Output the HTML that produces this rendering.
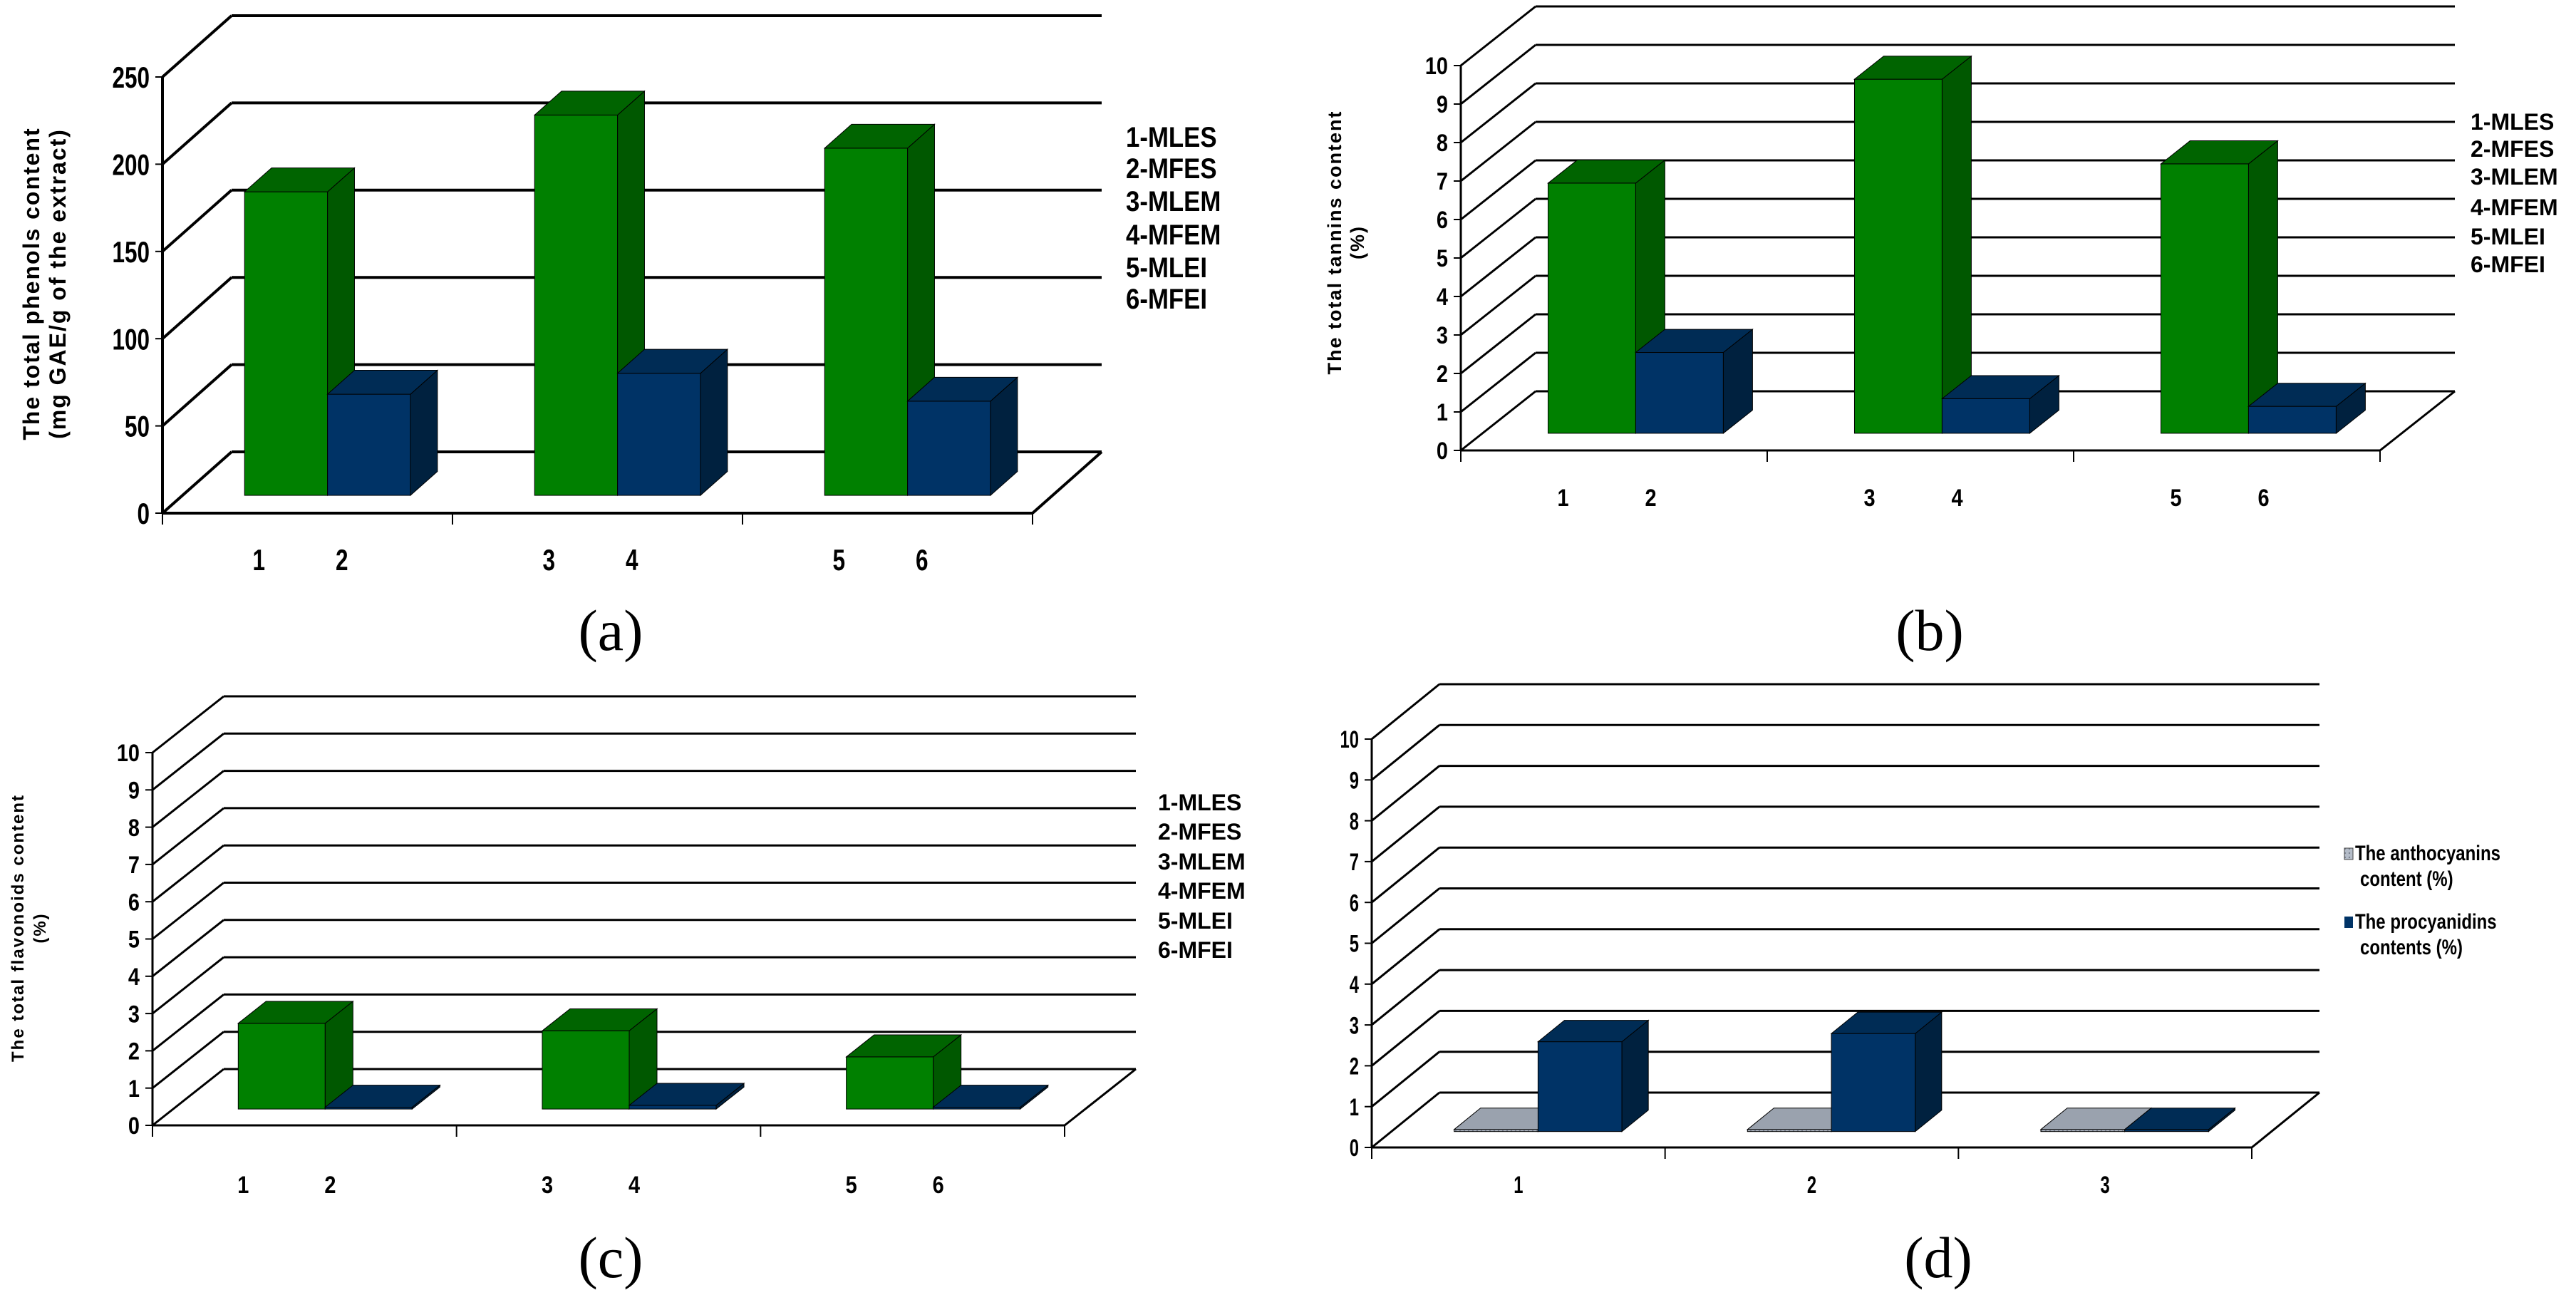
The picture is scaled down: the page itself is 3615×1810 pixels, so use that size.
<!DOCTYPE html>
<html><head><meta charset="utf-8"><style>
html,body{margin:0;padding:0;background:#fff;}
svg{display:block;}
.tk{font-family:"Liberation Sans Narrow","Liberation Sans",sans-serif;font-weight:bold;}
.cap{font-family:"Liberation Serif",serif;}
</style></head><body>
<svg id="chart" width="3615" height="1810" viewBox="0 0 3615 1810" xmlns="http://www.w3.org/2000/svg"></svg>
<script>
const catsSix=['1','2','3','4','5','6'];
const phenolsGreen=[174,218,199];
const phenolsBlue=[58,70,54];
const tanninsGreen=[6.5,9.2,7.0];
const tanninsBlue=[2.1,0.9,0.7];
const flavGreen=[2.3,2.1,1.4];
const flavBlue=[0.05,0.1,0.05];
const groupsD=['1','2','3'];
const anthoD=[0.05,0.05,0.05];
const procyD=[2.2,2.4,0.05];
const legendSix=['1-MLES','2-MFES','3-MLEM','4-MFEM','5-MLEI','6-MFEI'];

const svg=document.getElementById('chart');
const NS='http://www.w3.org/2000/svg';
function mk(tag,attrs,parent,txt){const e=document.createElementNS(NS,tag);for(const k in attrs)e.setAttribute(k,attrs[k]);if(txt!==undefined)e.textContent=txt;(parent||svg).appendChild(e);return e;}
function ctext(parent,x,y,str,fs,anchor,sx){
  const g=mk('g',{transform:`translate(${x},${y}) scale(${sx},1)`},parent);
  return mk('text',{x:0,y:0,'font-size':fs,'text-anchor':anchor,class:'tk'},g,str);
}

const defs=mk('defs',{});
const pat=mk('pattern',{id:'hatch',width:'6',height:'6',patternUnits:'userSpaceOnUse'},defs);
mk('rect',{width:'6',height:'6',fill:'#b4bcc8'},pat);
mk('circle',{cx:'3',cy:'3',r:'1.2',fill:'#7a8290'},pat);

function panel(name,c,s1,s2,col1,col2,perCatLabels,groupLabels){
  const g=mk('g',{});
  
  
  const nt=Math.round(c.max/c.step);
  for(let k=0;k<=nt;k++){
    const yf=c.y0-k*c.H/nt;
    const l1=mk('line',{x1:c.x0,y1:yf,x2:c.x0+c.ddx,y2:yf+c.ddy,stroke:'#000','stroke-width':c.lw},g);
    
    
    const l2=mk('line',{x1:c.x0+c.ddx,y1:yf+c.ddy,x2:c.x0+c.W+c.ddx,y2:yf+c.ddy,stroke:'#000','stroke-width':c.lw},g);
    
    
    mk('line',{x1:c.x0-10,y1:yf,x2:c.x0,y2:yf,stroke:'#000','stroke-width':2},g);
    const t=ctext(g,c.x0-18,yf+c.fs*0.36,String(Math.round(k*c.step)),c.fs,'end',c.sx);
    
    
  }
  mk('line',{x1:c.x0,y1:c.y0,x2:c.x0,y2:c.y0-c.H,stroke:'#000','stroke-width':c.lw},g);
  mk('line',{x1:c.x0,y1:c.y0,x2:c.x0+c.W,y2:c.y0,stroke:'#000','stroke-width':c.lw},g);
  mk('line',{x1:c.x0+c.W,y1:c.y0,x2:c.x0+c.W+c.ddx,y2:c.y0+c.ddy,stroke:'#000','stroke-width':c.lw},g);
  const n=s1.length, pitch=c.W/n;
  for(let i=0;i<=n;i++){mk('line',{x1:c.x0+i*pitch,y1:c.y0,x2:c.x0+i*pitch,y2:c.y0+16,stroke:'#000','stroke-width':2},g);}
  const f0=0.29,f1=0.68,dd=(f1-f0)*c.ddx,dy=(f1-f0)*c.ddy;
  const bw=0.286*pitch;
  function bar(x,v,cl,nm){
    const xl=x+f0*c.ddx, yb=c.y0+f0*c.ddy, xr=xl+bw, yt=yb-v/c.max*c.H;
    const b=mk('g',{},g);
    
    
    mk('rect',{x:xl,y:yt,width:bw,height:Math.max(yb-yt,0.5),fill:cl[0],stroke:'#000','stroke-width':1},b);
    mk('polygon',{points:`${xr},${yb} ${xr+dd},${yb+dy} ${xr+dd},${yt+dy} ${xr},${yt}`,fill:cl[1],stroke:'#000','stroke-width':1},b);
    mk('polygon',{points:`${xl},${yt} ${xl+dd},${yt+dy} ${xr+dd},${yt+dy} ${xr},${yt}`,fill:cl[2],stroke:'#000','stroke-width':1},b);
  }
  for(let i=0;i<n;i++){
    const gx=c.x0+i*pitch, st=gx+(pitch-2*bw)/2;
    bar(st,s1[i],col1,'bar-series1-'+(i+1));
    bar(st+bw,s2[i],col2,'bar-series2-'+(i+1));
    if(perCatLabels){
      [0,1].forEach(j=>{
        const t=ctext(g,st+bw*j+bw/2+c.ldx,c.ly,perCatLabels[2*i+j],c.fs,'middle',c.sx);
        
        
      });
    } else {
      const t=ctext(g,gx+pitch/2,c.ly,groupLabels[i],c.fs,'middle',c.sx);
      
      
    }
  }
  return g;
}
const GREEN=['#008000','#005800','#006400'], BLUE=['#003366','#00213f','#002c55'], GRAY=['url(#hatch)','#8a929e','#9aa2ae'];
panel('panel-a',{x0:228,y0:720,W:1221,H:612,ddx:97,ddy:-86,max:250,step:50,lw:4,fs:42,sx:0.75,ly:800,ldx:-10},phenolsGreen,phenolsBlue,GREEN,BLUE,catsSix);
panel('panel-b',{x0:2050,y0:632,W:1290,H:540,ddx:105,ddy:-83,max:10,step:1,lw:3,fs:34,sx:0.85,ly:710,ldx:-10},tanninsGreen,tanninsBlue,GREEN,BLUE,catsSix);
panel('panel-c',{x0:214,y0:1579,W:1280,H:523,ddx:100,ddy:-79,max:10,step:1,lw:3,fs:34,sx:0.85,ly:1674,ldx:-25},flavGreen,flavBlue,GREEN,BLUE,catsSix);
panel('panel-d',{x0:1925,y0:1610,W:1235,H:573,ddx:95,ddy:-77,max:10,step:1,lw:3,fs:34,sx:0.7,ly:1674,ldx:0},anthoD,procyD,GRAY,BLUE,null,groupsD);

function legend(name,x,ys,fs,sx){
  legendSix.forEach((s,i)=>{
    const t=ctext(null,x,ys[i],s,fs,'start',sx);
    
    
  });
}
legend('legend-a',1580,[206,250,296,343,389,433],40,0.87);
legend('legend-b',3467,[182,220,259,302,343,382],32,1.0);
legend('legend-c',1625,[1137,1178,1220,1261,1303,1344],32,1.0);
mk('rect',{x:3290,y:1190,width:12,height:16,fill:'url(#hatch)',stroke:'#444','stroke-width':1});
mk('rect',{x:3290,y:1286,width:12,height:16,fill:'#003366'});
[['The anthocyanins',1207],['content (%)',1243],['The procyanidins',1303],['contents (%)',1339]].forEach((a,i)=>{
  const t=ctext(null,i%2?3312:3305,a[1],a[0],30,'start',0.8);
  
  
});

function ytitle(name,lines,xs,cy,fs){
  lines.forEach((s,i)=>{
    const t=mk('text',{x:xs[i],y:cy,'font-size':fs,'text-anchor':'middle',class:'tk','font-family':'Liberation Sans','letter-spacing':'2',transform:`rotate(-90 ${xs[i]} ${cy})`},null,s);
    
    
  });
}
ytitle('y-axis-title-a',['The total  phenols  content','(mg GAE/g of the extract)'],[55,92],398,32);
ytitle('y-axis-title-b',['The total tannins content','(%)'],[1882,1914],340,27);
ytitle('y-axis-title-c',['The total flavonoids content','(%)'],[33,64],1302,24);

[['(a)',857,912],['(b)',2708,912],['(c)',857,1792],['(d)',2720,1792]].forEach(a=>{
  const t=mk('text',{x:a[1],y:a[2],'font-size':82,'text-anchor':'middle',class:'cap'},null,a[0]);
  
  
});
</script>
</body></html>
